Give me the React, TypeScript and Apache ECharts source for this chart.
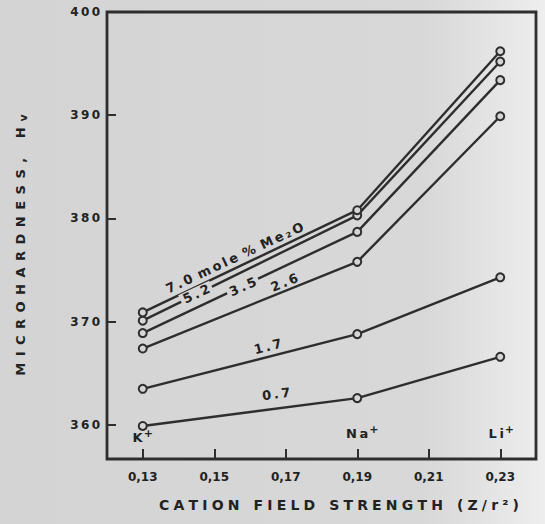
import React, { useEffect, useRef } from "react";
import * as echarts from "echarts";

// ---- data ----
const FIELD_STRENGTH = [0.13, 0.19, 0.23];
const CATIONS = ["K", "Na", "Li"];
const MOLE_PCT = ["0.7", "1.7", "2.6", "3.5", "5.2", "7.0"];
const HV_0_7 = [359.9, 362.6, 366.6];
const HV_1_7 = [363.5, 368.8, 374.3];
const HV_2_6 = [367.4, 375.8, 389.9];
const HV_3_5 = [368.9, 378.7, 393.4];
const HV_5_2 = [370.1, 380.3, 395.2];
const HV_7_0 = [370.9, 380.8, 396.2];
const SERIES_VALUES = [HV_0_7, HV_1_7, HV_2_6, HV_3_5, HV_5_2, HV_7_0];
const Y_TICKS = [360, 370, 380, 390, 400];
const X_TICKS = [0.13, 0.15, 0.17, 0.19, 0.21, 0.23];

// curve annotations (data coordinates, rotation in degrees)
const CURVE_LABELS = [
  { text: "7.0 mole % Me₂O", x: 0.1557, y: 376.2, rot: 25, gap: false },
  { text: "5.2", x: 0.145, y: 372.7, rot: 25, gap: true },
  { text: "3.5", x: 0.158, y: 373.4, rot: 24, gap: true },
  { text: "2.6", x: 0.1696, y: 373.8, rot: 22, gap: false },
  { text: "1.7", x: 0.165, y: 367.6, rot: 14, gap: false },
  { text: "0.7", x: 0.1673, y: 363.0, rot: 7, gap: false },
];
const CATION_LABEL_Y = [358.75, 359.2, 359.2];
const CATION_LABEL_DX = [0, 0.0014, 0.0003];

const INK = "#2e2e2e";
const TXT = "#222222";
const BG = "#d6d6d6";
const FONT = "DejaVu Sans";

const spaced = (s: string, gap = "\u2009", wordGap = "\u2002\u2002") =>
  s
    .split(" ")
    .filter((w) => w.length > 0)
    .map((w) => w.split("").join(gap))
    .join(wordGap);

export default function App() {
  const ref = useRef<HTMLDivElement>(null);
  useEffect(() => {
    if (!ref.current) return;
    const chart = echarts.init(ref.current, null, { renderer: "svg" });
    const lineSeries = SERIES_VALUES.map((vals, i) => ({
      name: MOLE_PCT[i],
      type: "line",
      data: vals.map((v, j) => [FIELD_STRENGTH[j], v]),
      symbol: "circle",
      symbolSize: 8,
      itemStyle: { color: BG, borderColor: INK, borderWidth: 2 },
      lineStyle: { color: INK, width: 2.4 },
      z: 3,
    }));
    const annot = {
      type: "scatter",
      symbolSize: 0,
      z: 5,
      itemStyle: { opacity: 1 },
      data: CURVE_LABELS.map((l) => ({
        value: [l.x, l.y],
        label: {
          show: true,
          position: "inside",
          rotate: l.rot,
          formatter: spaced(l.text, "\u2009", "\u2002"),
          color: TXT,
          opacity: 1,
          textBorderWidth: 0,
          fontFamily: FONT,
          fontWeight: "bold",
          fontSize: 13,
          backgroundColor: l.gap ? BG : "transparent",
          padding: l.gap ? [0, 3] : 0,
        },
      })),
    };
    const cationAnnot = {
      type: "scatter",
      symbolSize: 0,
      z: 5,
      itemStyle: { opacity: 1 },
      data: CATIONS.map((c, i) => ({
        value: [FIELD_STRENGTH[i] + CATION_LABEL_DX[i], CATION_LABEL_Y[i]],
        label: {
          show: true,
          position: "inside",
          opacity: 1,
          formatter: "{a|" + spaced(c, "\u2009") + "}{b|+}",
          rich: {
            a: { fontFamily: FONT, fontWeight: "bold", fontSize: 13, color: TXT },
            b: {
              fontFamily: FONT,
              fontWeight: "bold",
              fontSize: 11,
              color: TXT,
              verticalAlign: "top",
              padding: [0, 0, 8, 1],
            },
          },
        },
      })),
    };
    chart.setOption({
      animation: false,
      backgroundColor: {
        type: "linear",
        x: 0,
        y: 0,
        x2: 1,
        y2: 0,
        colorStops: [
          { offset: 0, color: "#d4d4d4" },
          { offset: 0.78, color: "#d8d8d8" },
          { offset: 0.9, color: "#e4e4e4" },
          { offset: 1, color: "#eeeeee" },
        ],
      },
      grid: {
        left: 107,
        right: 9,
        top: 12,
        bottom: 65,
        show: true,
        borderColor: INK,
        borderWidth: 2.8,
        backgroundColor: "transparent",
      },
      xAxis: {
        type: "value",
        min: 0.12,
        max: 0.24,
        splitLine: { show: false },
        axisLine: { show: false },
        axisTick: {
          show: true,
          inside: true,
          length: 10,
          customValues: X_TICKS,
          lineStyle: { color: INK, width: 2 },
        },
        axisLabel: {
          customValues: X_TICKS,
          margin: 12,
          formatter: (v: number) => v.toFixed(2).replace(".", ","),
          color: TXT,
          fontFamily: FONT,
          fontWeight: "bold",
          fontSize: 12,
        },
      },
      yAxis: {
        type: "value",
        min: 356.7,
        max: 400,
        splitLine: { show: false },
        axisLine: { show: false },
        axisTick: {
          show: true,
          inside: true,
          length: 9,
          customValues: Y_TICKS.slice(0, 4),
          lineStyle: { color: INK, width: 2 },
        },
        axisLabel: {
          customValues: Y_TICKS,
          margin: 7,
          formatter: (v: number) => spaced(String(v), "\u2009"),
          color: TXT,
          fontFamily: FONT,
          fontWeight: "bold",
          fontSize: 12,
        },
      },
      graphic: [
        {
          type: "text",
          x: 20,
          y: 245,
          rotation: Math.PI / 2,
          style: {
            text: "{a|" + spaced("MICROHARDNESS,", "\u2002") + "\u2002\u2002\u2002H}{b|v}",
            align: "center",
            verticalAlign: "middle",
            rich: {
              a: { fontFamily: FONT, fontWeight: "bold", fontSize: 13, fill: TXT },
              b: { fontFamily: FONT, fontWeight: "bold", fontSize: 11, fill: TXT, padding: [6, 0, 0, 6] },
            },
          },
        },
        {
          type: "text",
          x: 339,
          y: 505,
          style: {
            text: spaced("CATION FIELD STRENGTH (Z/r²)", "\u2009\u200A", "\u2002\u2002"),
            align: "center",
            verticalAlign: "middle",
            fontFamily: FONT,
            fontWeight: "bold",
            fontSize: 14,
            fill: TXT,
          },
        },
      ],
      series: [...lineSeries, annot, cationAnnot],
    });
    return () => chart.dispose();
  }, []);
  return (
    <div
      ref={ref}
      style={{ position: "fixed", left: 0, top: 0, width: 545, height: 524 }}
    />
  );
}
